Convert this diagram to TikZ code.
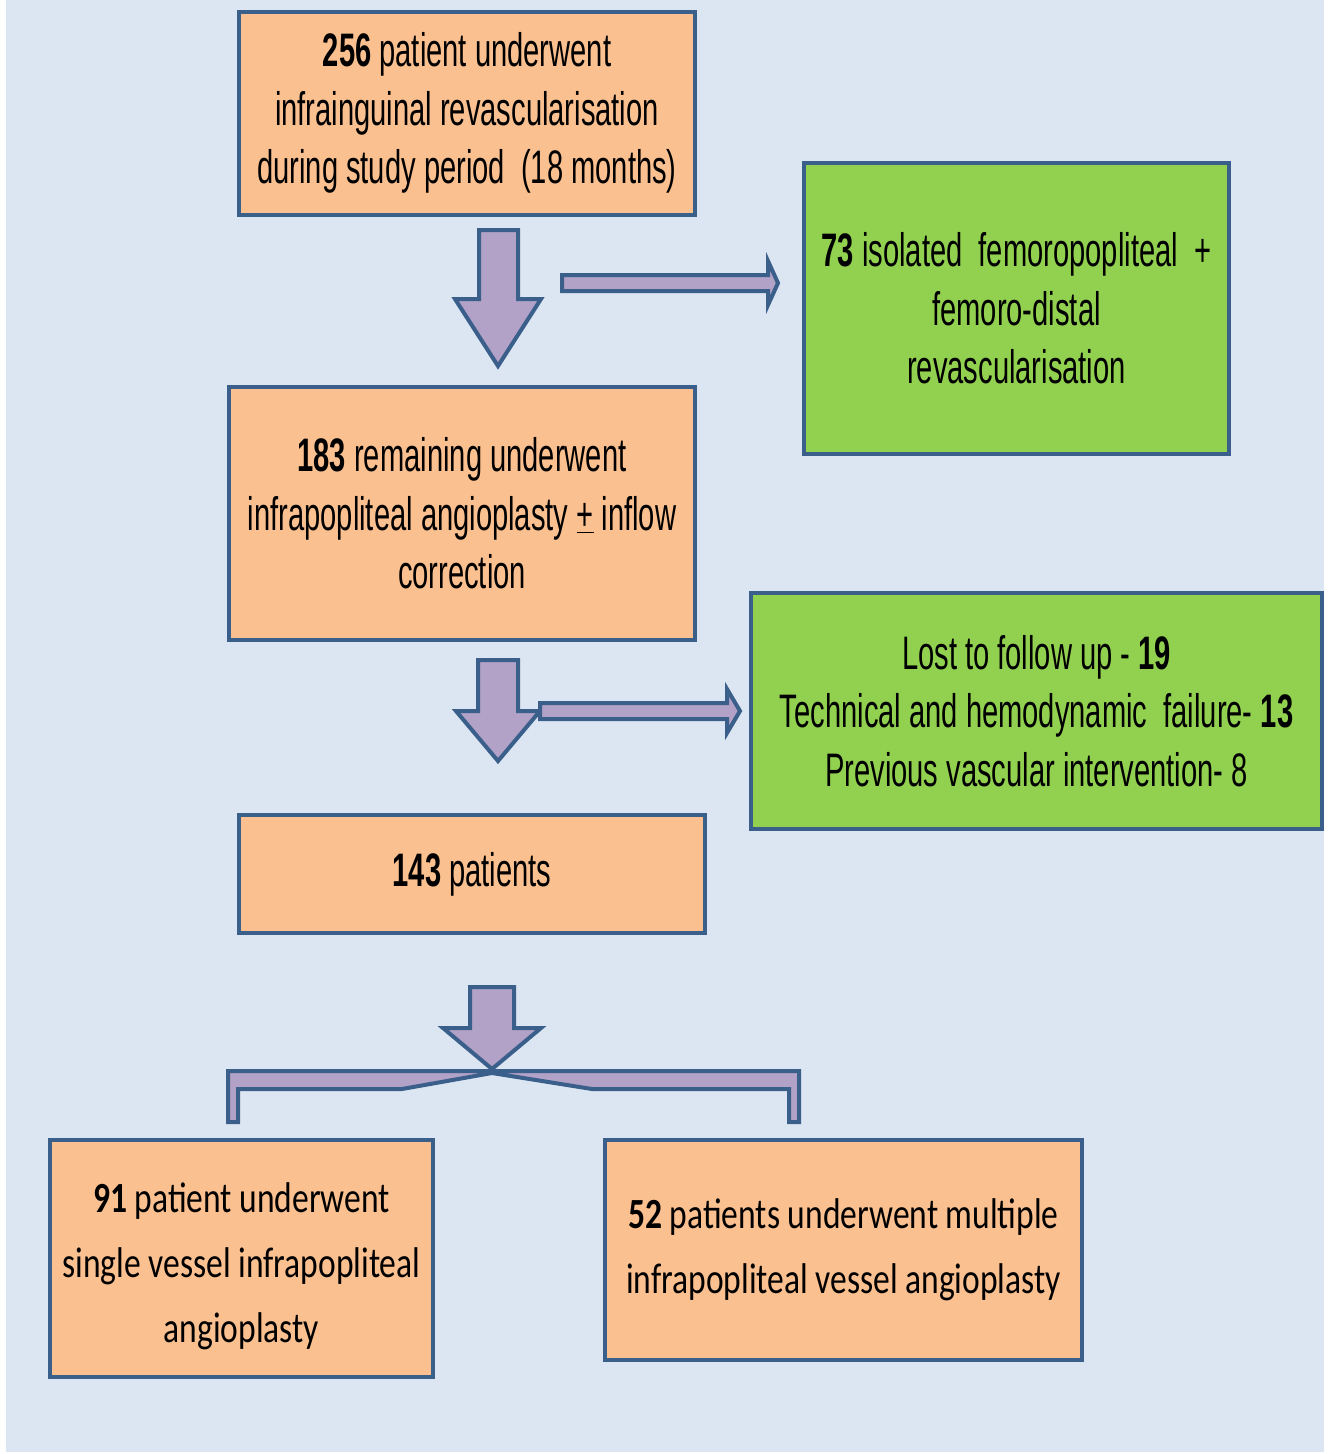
\documentclass[tikz,border=0pt]{standalone}
\usepackage{fontspec}
\setmainfont[FakeStretch=0.62]{Liberation Sans}
\newfontfamily\calfont[FakeStretch=0.78]{Carlito}
\usetikzlibrary{positioning}
\definecolor{bgblue}{HTML}{DCE6F2}
\definecolor{edgeblue}{HTML}{3A5F8B}
\definecolor{boxorange}{HTML}{FAC090}
\definecolor{boxgreen}{HTML}{92D050}
\definecolor{lilac}{HTML}{B3A2C7}
\tikzstyle{box}=[draw=edgeblue,line width=4pt,inner sep=0pt,align=center,font=\fontsize{47}{58.5}\selectfont]
\tikzstyle{obox}=[box,fill=boxorange]
\tikzstyle{gbox}=[box,fill=boxgreen]
\tikzstyle{cal}=[align=center,font=\calfont\fontsize{43}{65}\selectfont]
\tikzstyle{blk}=[draw=edgeblue,fill=lilac,line width=4pt,line join=miter]

\begin{document}
\begin{tikzpicture}[x=1pt,y=-1pt]
    \useasboundingbox (0,0) rectangle (1333,1454);
    \fill[white] (0,0) rectangle (1333,1454);
    \fill[bgblue] (6,0) rectangle (1324,1452);
    % boxes
    \node[obox,minimum width=456,minimum height=203] (n256) at (467,113)
        {\textbf{256} patient underwent\\infrainguinal revascularisation\\during study period~ (18 months)};
    \node[gbox,minimum width=425,minimum height=291] (n73) at (1016.5,308.5)
        {\textbf{73} isolated~ femoropopliteal~ +\\femoro-distal\\revascularisation};
    \node[obox,minimum width=466,minimum height=253] (n183) at (462,513.5)
        {\textbf{183} remaining underwent\\infrapopliteal angioplasty \underline{+} inflow\\correction};
    \node[gbox,minimum width=571,minimum height=236] (nlost) at (1036.5,711)
        {Lost to follow up - \textbf{19}\\Technical and hemodynamic~ failure- \textbf{13}\\Previous vascular intervention- 8};
    \node[obox,minimum width=466,minimum height=118] (n143) at (472,874)
        {\textbf{143} patients};
    \node[obox,minimum width=383,minimum height=237] (n91) at (241.5,1258.5) {};
    \node[cal,yshift=-8] (t91) at (n91)
        {\textbf{91} patient underwent\\single vessel infrapopliteal\\angioplasty};
    \node[obox,cal,minimum width=477,minimum height=220] (n52) at (843.5,1250)
        {\textbf{52} patients underwent multiple\\infrapopliteal vessel angioplasty};
    % block arrows
    \draw[blk] (479,230) -- (518,230) -- (518,299) -- (541,299) -- (498,366) -- (455,299) -- (479,299) -- cycle;
    \draw[blk] (562,275) -- (768,275) -- (768,261) -- (778,283) -- (768,305) -- (768,291) -- (562,291) -- cycle;
    \draw[blk] (478,660) -- (518,660) -- (518,711) -- (540,711) -- (498,761) -- (456,711) -- (478,711) -- cycle;
    \draw[blk] (540,703) -- (727,703) -- (727,689) -- (740,711) -- (727,733) -- (727,719) -- (540,719) -- cycle;
    \draw[blk] (228,1071) -- (799,1071) -- (799,1122) -- (789,1122) -- (789,1089) -- (592,1089) -- (492,1073)
        -- (402,1089) -- (238,1089) -- (238,1122) -- (228,1122) -- cycle;
    \draw[blk] (470,987) -- (514,987) -- (514,1028) -- (541,1028) -- (492,1069) -- (443,1028) -- (470,1028) -- cycle;
\end{tikzpicture}
\end{document}
